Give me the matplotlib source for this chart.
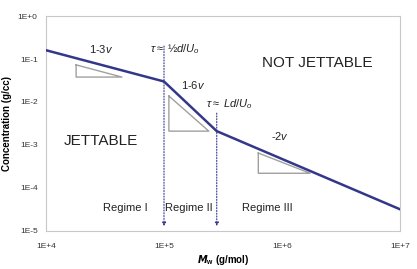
import numpy as np
import matplotlib.pyplot as plt

plt.rcParams['font.family'] = ['Liberation Sans', 'DejaVu Sans']
plt.rcParams['mathtext.fontset'] = 'custom'
plt.rcParams['mathtext.rm'] = 'Liberation Sans'
plt.rcParams['mathtext.it'] = 'Liberation Sans:italic'
plt.rcParams['mathtext.bf'] = 'Liberation Sans:bold'

# master curve (molecular weight vs concentration)
mw = [1e4, 1e5, 2.8e5, 1e7]
conc = [0.16, 0.030, 2.1e-3, 3.2e-5]

# slope triangles: (x_left, x_right), (y_top, y_bottom)
tri_x = [(1.8e4, 4.4e4), (1.1e5, 2.4e5), (6.3e5, 1.73e6)]
tri_y = [(0.073, 0.038), (0.0138, 2.1e-3), (6.5e-4, 2.2e-4)]

# regime boundaries
bound_x = [1e5, 2.8e5]
bound_top = [0.2, 5.5e-3]
bound_bot = 1.3e-5

xticks = [1e4, 1e5, 1e6, 1e7]
xlabels = ['1E+4', '1E+5', '1E+6', '1E+7']
yticks = [1e-5, 1e-4, 1e-3, 1e-2, 1e-1, 1e0]
ylabels = ['1E-5', '1E-4', '1E-3', '1E-2', '1E-1', '1E+0']

navy = '#33378a'
grey = '#a0a0a0'

fig = plt.figure(figsize=(4.17, 2.69), dpi=100)
ax = fig.add_axes([0.1103, 0.1413, 0.8489, 0.7992])
ax.set_xscale('log')
ax.set_yscale('log')
ax.set_xlim(1e4, 1e7)
ax.set_ylim(1e-5, 1e0)

for (x0, x1), (y0, y1) in zip(tri_x, tri_y):
    ax.plot([x0, x0, x1, x0], [y0, y1, y1, y0], color=grey, lw=1.0)

ax.plot(mw, conc, color=navy, lw=1.8, zorder=3)

for bx, bt in zip(bound_x, bound_top):
    ax.annotate('', xy=(bx, bound_bot), xytext=(bx, bt),
                arrowprops=dict(arrowstyle='-|>', color=navy, lw=0.8,
                                linestyle=(0, (1, 1.5)), mutation_scale=5,
                                shrinkA=0, shrinkB=0))

ax.set_xticks(xticks)
ax.set_xticklabels(xlabels)
ax.set_yticks(yticks)
ax.set_yticklabels(ylabels)
ax.minorticks_off()
ax.tick_params(length=0, labelsize=6, colors='#333333')
ax.tick_params(axis='x', pad=9)
ax.tick_params(axis='y', pad=6)
for s in ax.spines.values():
    s.set_color('#c8c8c8')
    s.set_linewidth(0.8)

ax.set_ylabel('Concentration (g/cc)', fontsize=7, fontweight='bold', labelpad=4)
ax.set_xlabel('$\\mathbfit{M}_{\\mathbf{w}}$ (g/mol)', fontsize=7,
              fontweight='bold', labelpad=2)

kw = dict(ha='center', va='center', color='#222222')
ax.text(2.92e4, 0.171, '1-3$\\mathit{v}$', fontsize=8, **kw)
ax.text(1.24e5, 0.171, '$\\tau\\approx$ ½$\\mathit{d/U}_{\\mathit{o}}$', fontsize=8, **kw)
ax.text(1.76e5, 0.0248, '1-6$\\mathit{v}$', fontsize=8, **kw)
ax.text(3.56e5, 8.98e-3, '$\\tau\\approx$ $\\mathit{Ld/U}_{\\mathit{o}}$', fontsize=8, **kw)
ax.text(1.98e6, 0.0807, 'NOT JETTABLE', fontsize=11, **kw)
ax.text(2.92e4, 1.24e-3, 'JETTABLE', fontsize=11, **kw)
ax.text(9.6e5, 1.62e-3, '-2$\\mathit{v}$', fontsize=8, **kw)
ax.text(4.67e4, 3.43e-5, 'Regime I', fontsize=8, **kw)
ax.text(1.63e5, 3.43e-5, 'Regime II', fontsize=8, **kw)
ax.text(7.46e5, 3.43e-5, 'Regime III', fontsize=8, **kw)

fig.savefig('out.png', dpi=100)
